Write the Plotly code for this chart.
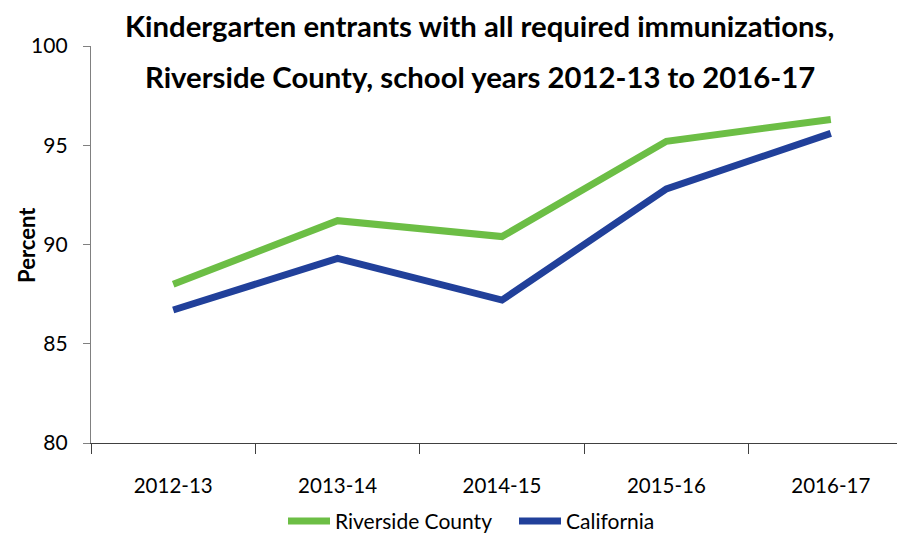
import plotly.graph_objects as go

years = ["2012-13", "2013-14", "2014-15", "2015-16", "2016-17"]
riverside = [88.0, 91.2, 90.4, 95.2, 96.3]
california = [86.7, 89.3, 87.2, 92.8, 95.6]
y_ticks = [80, 85, 90, 95, 100]

FONT = "Lato, Liberation Sans, sans-serif"
GREEN = "#6CBE45"
BLUE = "#21409A"

fig = go.Figure()
fig.add_trace(go.Scatter(x=years, y=riverside, mode="lines", name="Riverside County",
                         line=dict(color=GREEN, width=7)))
fig.add_trace(go.Scatter(x=years, y=california, mode="lines", name="California",
                         line=dict(color=BLUE, width=7)))

OFF = 8  # page body offset
# desired positions in viewport pixels
VT, VB, VL = 45.7, 443.5, 91
PT, PB, PL = VT - OFF, VB - OFF, VL - OFF
PH = PB - PT
PW = 905 - PL
def py(v):
    return (VB - v) / PH
def px(v):
    return (v - VL) / PW

fig.update_layout(
    width=905, height=536,
    margin=dict(l=PL, r=0, t=PT, b=536 - PB, autoexpand=False),
    paper_bgcolor="white", plot_bgcolor="white",
    font=dict(family=FONT, size=21, color="#000000"),
    showlegend=True,
    legend=dict(orientation="h", xanchor="left", yanchor="middle",
                x=px(283), y=py(522), font=dict(size=21, family=FONT),
                itemwidth=42, entrywidth=174, tracegroupgap=0,
                bgcolor="rgba(0,0,0,0)"),
    xaxis=dict(type="category", range=[-0.5, 4.5], showline=True, linecolor="#404040",
               linewidth=1.3, ticks="outside", ticklen=10, tickcolor="#404040",
               tickson="boundaries", showgrid=False, zeroline=False, automargin=False,
               ticklabelstandoff=24, tickfont=dict(size=20.5, family=FONT)),
    yaxis=dict(range=[80, 100], tickvals=y_ticks, showline=True, linecolor="#808080",
               linewidth=1.3, ticks="outside", ticklen=7, tickcolor="#808080",
               showgrid=False, zeroline=False, ticklabelstandoff=11, automargin=False,
               tickfont=dict(size=21, family=FONT)),
    annotations=[
        dict(text="<b>Kindergarten entrants with all required immunizations,</b>",
             xref="paper", yref="paper", x=px(479), y=py(25),
             xanchor="center", yanchor="middle", showarrow=False,
             font=dict(size=29.3, family=FONT, color="#000000")),
        dict(text="<b>Riverside County, school years 2012-13 to 2016-17</b>",
             xref="paper", yref="paper", x=px(480), y=py(76),
             xanchor="center", yanchor="middle", showarrow=False,
             font=dict(size=29.3, family=FONT, color="#000000")),
        dict(text="<b>Percent</b>", xref="paper", yref="paper", x=px(27),
             y=py(245), xanchor="center", yanchor="middle", textangle=-90,
             showarrow=False, font=dict(size=22, family=FONT, color="#000000")),
    ],
)

fig.write_html("out.html")
